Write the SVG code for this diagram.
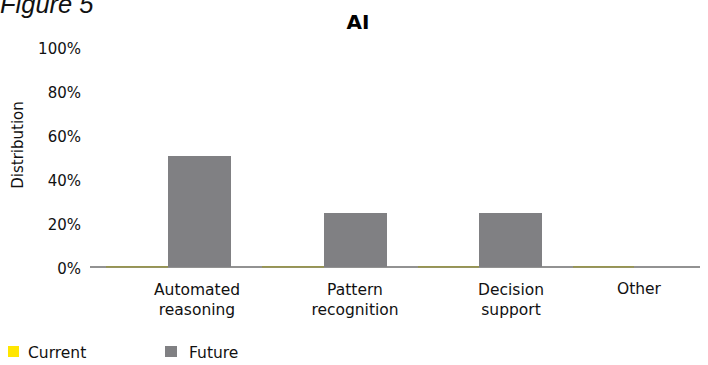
<svg xmlns="http://www.w3.org/2000/svg" width="708" height="365" viewBox="0 0 708 365">
<style>
text{font-family:"DejaVu Sans","Liberation Sans",sans-serif;fill:#111}
.tick{font-size:15px;text-anchor:end}
.cat{font-size:15.5px;text-anchor:middle}
.fut{fill:#808083}
.cur{fill:#9b9735}
</style>
<rect width="708" height="365" fill="#ffffff"/>
<text x="0" y="13" style="font-family:'Liberation Sans',sans-serif;font-style:italic;font-size:25.5px">Figure 5</text>
<text x="358" y="29" style="font-size:20px;font-weight:bold;text-anchor:middle;fill:#000">AI</text>
<g id="y-axis">
<text class="tick" x="81" y="54">100%</text>
<text class="tick" x="81" y="98">80%</text>
<text class="tick" x="81" y="142">60%</text>
<text class="tick" x="81" y="186">40%</text>
<text class="tick" x="81" y="230">20%</text>
<text class="tick" x="81" y="274">0%</text>
<text x="23" y="145" transform="rotate(-90 23 145)" style="font-size:15px;text-anchor:middle">Distribution</text>
</g>
<g id="axis">
<line x1="90" y1="267" x2="700" y2="267" stroke="#6e6e6e" stroke-width="1.5"/>
<rect class="cur" x="106" y="266.3" width="62" height="1.2"/>
<rect class="cur" x="262" y="266.3" width="62" height="1.2"/>
<rect class="cur" x="418" y="266.3" width="61" height="1.2"/>
<rect class="cur" x="573" y="266.3" width="61" height="1.2"/>
</g>
<g id="bars">
<rect class="fut" x="168" y="156" width="63" height="111"/>
<rect class="fut" x="324" y="213" width="63" height="54"/>
<rect class="fut" x="479" y="213" width="63" height="54"/>
</g>
<g id="categories">
<text class="cat" x="197" y="295">Automated</text>
<text class="cat" x="197" y="315">reasoning</text>
<text class="cat" x="355" y="295">Pattern</text>
<text class="cat" x="355" y="315">recognition</text>
<text class="cat" x="511" y="295">Decision</text>
<text class="cat" x="511" y="315">support</text>
<text class="cat" x="639" y="294">Other</text>
</g>
<g id="legend">
<rect x="8" y="346" width="11" height="11" fill="#ffe600"/>
<text x="28" y="358" style="font-size:15.5px">Current</text>
<rect x="165" y="346" width="12" height="11" fill="#808083"/>
<text x="189" y="358" style="font-size:15.5px">Future</text>
</g>
</svg>
